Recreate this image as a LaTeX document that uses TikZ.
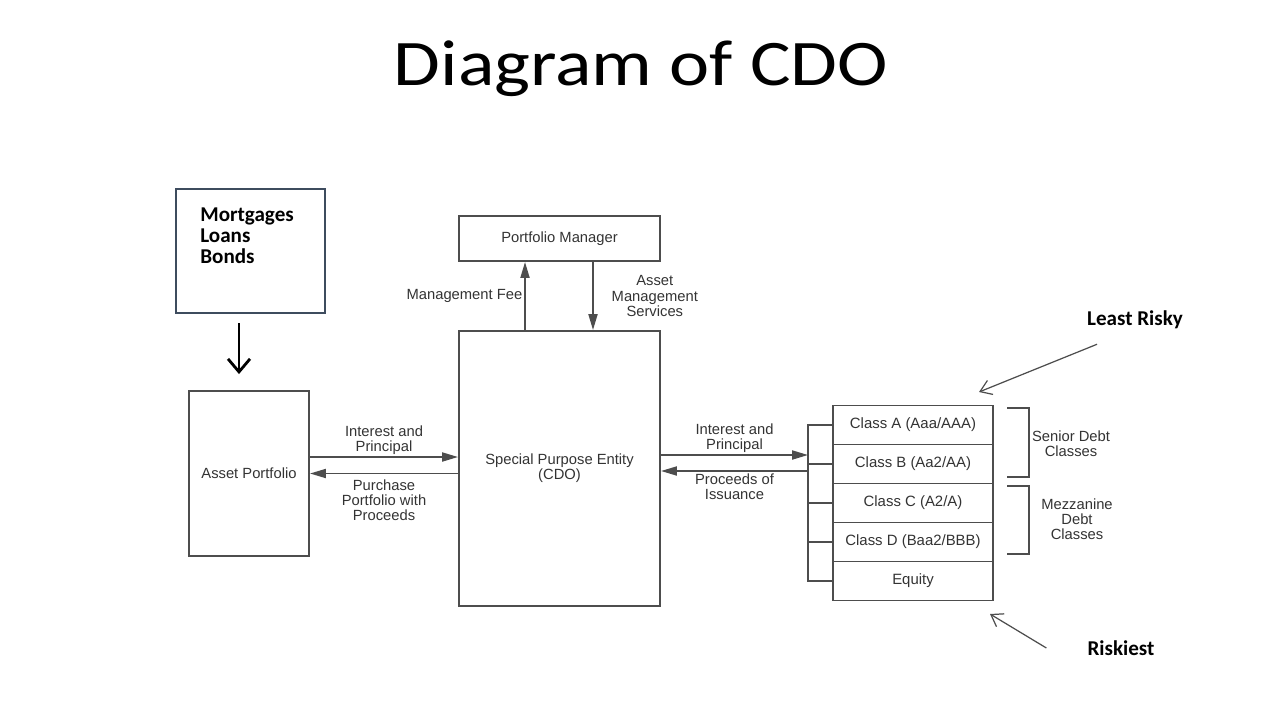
\documentclass[tikz,border=0pt]{standalone}
\usepackage{fontspec}
\usepackage{graphicx}
\setmainfont{Liberation Sans}
\newfontfamily\calfont{Carlito}
\usetikzlibrary{arrows.meta,positioning,calc}
\definecolor{lineg}{HTML}{4D4D4D}
\definecolor{textg}{HTML}{333333}
\definecolor{framebl}{HTML}{3E4C5E}

\begin{document}
\begin{tikzpicture}[x=0.02cm,y=-0.02cm,
    box/.style={draw=lineg, line width=1.1pt, rectangle, inner sep=0pt, text=textg,
      font=\fontsize{8.4}{8.6}\selectfont, align=center},
    tier/.style={box, minimum width=3.2cm, minimum height=0.78cm, font=\fontsize{8.5}{9}\selectfont},
    lbl/.style={text=textg, font=\fontsize{8.4}{8.6}\selectfont, align=center, inner sep=1pt},
    flow/.style={draw=lineg, line width=1.1pt, -{Triangle[length=3.2mm,width=1.8mm]}},
    risk/.style={font=\calfont\bfseries\fontsize{12}{12}\selectfont},
    ptr/.style={draw=lineg, line width=0.7pt, -{Straight Barb[length=2.2mm,width=3mm]}}]
    \useasboundingbox (0,0) rectangle (1280,720);

    % Titulo
    \node[anchor=base, font=\calfont\fontsize{37}{40}\selectfont] (title) at (641,85)
        {\scalebox{1.17}[1]{Diagram of CDO}};

    % Activos de origen
    \node[draw=framebl, line width=1.5pt, minimum width=2.98cm, minimum height=2.48cm] (src) at (250.5,251) {};
    \node[anchor=north west, align=left, inner sep=0pt, font=\calfont\bfseries\fontsize{12}{12}\selectfont]
        (srctext) at (200,207) {Mortgages\\Loans\\Bonds};

    % Cajas principales
    \node[box, minimum width=2.4cm, minimum height=3.3cm] (ap) at (249,473.5) {Asset Portfolio};
    \node[box, minimum width=4.02cm, minimum height=5.5cm] (spe) at (559.5,468.5) {Special Purpose Entity\\(CDO)};
    \node[box, minimum width=4.02cm, minimum height=0.9cm] (pm) at (559.5,238.5) {Portfolio Manager};

    \draw[line width=1.6pt, -{Straight Barb[length=2.6mm,width=4.4mm]}, shorten <=0.18cm, shorten >=0.32cm]
        ([xshift=-0.23cm]src.south) -- ([xshift=-0.23cm]src.south |- ap.north);

    % Tramos
    \foreach \lab [count=\i] in {Class A (Aaa/AAA), Class B (Aa2/AA), Class C (A2/A), Class D (Baa2/BBB), Equity}
        \node[tier] (t\i) at (913,386+39*\i) {\lab};

    % Corchete izquierdo de los tramos
    \coordinate (bk) at ($(t1.west)+(-24,0)$);
    \draw[lineg, line width=1.1pt] (t1.west) -- (bk) |- (t5.west);
    \foreach \i in {2,3,4}
        \draw[lineg, line width=1.1pt] (t\i.west) -- ++(-24,0);

    % Flujos con el gestor
    \draw[flow] ([xshift=-0.69cm]spe.north) -- ([xshift=-0.69cm]pm.south)
        node[midway, left, lbl] {Management Fee};
    \draw[flow] ([xshift=0.67cm]pm.south) -- ([xshift=0.67cm]spe.north)
        node[midway, right=0.32cm, lbl] {Asset\\Management\\Services};

    % Flujos con la cartera
    \draw[flow] ([yshift=0.33cm]ap.east) -- ([yshift=0.33cm]ap.east -| spe.west)
        node[midway, above, lbl] {Interest and\\Principal};
    \draw[flow] (ap.east -| spe.west) -- (ap.east)
        node[midway, below=2pt, lbl] {Purchase\\Portfolio with\\Proceeds};

    % Flujos con los inversores
    \draw[flow] ([yshift=0.27cm]spe.east) -- ([yshift=0.27cm]spe.east -| bk)
        node[midway, above, lbl] {Interest and\\Principal};
    \draw[flow] ([yshift=-0.05cm]spe.east -| bk) -- ([yshift=-0.05cm]spe.east)
        node[midway, below, lbl] {Proceeds of\\Issuance};

    % Llaves de clases
    \draw[lineg, line width=1.1pt] (1007,408) -- (1029,408) -- (1029,477) -- (1007,477);
    \draw[lineg, line width=1.1pt] (1007,486) -- (1029,486) -- (1029,554) -- (1007,554);
    \node[lbl] (senior) at (1071,444) {Senior Debt\\Classes};
    \node[lbl] (mezz) at (1077,519) {Mezzanine\\Debt\\Classes};

    % Riesgo
    \node[risk] (least) at (1135,320) {Least Risky};
    \coordinate (leastend) at (979,392);
    \draw[ptr] ([xshift=-0.76cm,yshift=-0.18cm]least.south) -- (leastend);
    \node[risk] (riskiest) at (1121,648) {Riskiest};
    \coordinate (riskend) at (990,614);
    \draw[ptr] ([xshift=-0.7cm]riskiest.west) -- (riskend);

\end{tikzpicture}
\end{document}
